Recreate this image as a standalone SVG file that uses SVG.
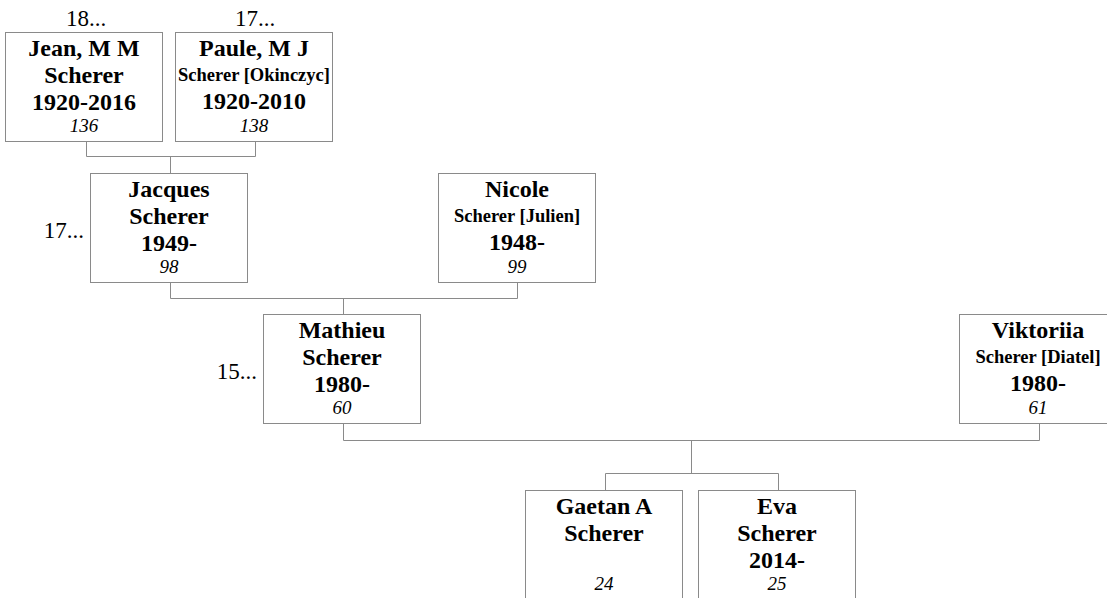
<svg xmlns="http://www.w3.org/2000/svg" width="1107" height="598" viewBox="0 0 1107 598">
<style>
  .box { fill: #ffffff; stroke: #8a8a8a; stroke-width: 1; }
  .con { fill: none; stroke: #8a8a8a; stroke-width: 1; }
  text { font-family: "Liberation Serif", "Times New Roman", serif; fill: #000; text-anchor: middle; }
  .nm { font-size: 24px; font-weight: bold; }
  .md { font-size: 18.5px; font-weight: bold; }
  .dt { font-size: 24px; font-weight: bold; }
  .id { font-size: 19px; font-style: italic; }
  .gen { font-size: 23px; }
</style>
<rect x="0" y="0" width="1107" height="598" fill="#ffffff"/>
<g id="connectors">
  <path class="con" d="M86.5 141.5 V156.5 H255.5 V141.5 M170.5 156.5 V173.5"/>
  <path class="con" d="M170.5 282.5 V298.5 H517.5 V282.5 M343.5 298.5 V314.5"/>
  <path class="con" d="M343.5 423.5 V440.5 H1039.5 V423.5 M691.5 440.5 V473.5"/>
  <path class="con" d="M605.5 490.5 V473.5 H778.5 V490.5"/>
</g>
<g id="gen-labels">
  <text class="gen" x="86" y="26">18...</text>
  <text class="gen" x="255" y="26">17...</text>
  <text class="gen" x="84" y="238" style="text-anchor:end">17...</text>
  <text class="gen" x="257" y="379" style="text-anchor:end">15...</text>
</g>
<g id="node-136">
  <rect class="box" x="5.5" y="32.5" width="157" height="109"/>
  <text class="nm" x="84" y="56">Jean, M M</text>
  <text class="nm" x="84" y="83">Scherer</text>
  <text class="dt" x="84" y="110">1920-2016</text>
  <text class="id" x="84" y="132">136</text>
</g>
<g id="node-138">
  <rect class="box" x="175.5" y="32.5" width="157" height="109"/>
  <text class="nm" x="254" y="56">Paule, M J</text>
  <text class="md" x="254" y="81">Scherer [Okinczyc]</text>
  <text class="dt" x="254" y="109">1920-2010</text>
  <text class="id" x="254" y="132">138</text>
</g>
<g id="node-98">
  <rect class="box" x="90.5" y="173.5" width="157" height="109"/>
  <text class="nm" x="169" y="197">Jacques</text>
  <text class="nm" x="169" y="224">Scherer</text>
  <text class="dt" x="169" y="251">1949-</text>
  <text class="id" x="169" y="273">98</text>
</g>
<g id="node-99">
  <rect class="box" x="438.5" y="173.5" width="157" height="109"/>
  <text class="nm" x="517" y="197">Nicole</text>
  <text class="md" x="517" y="222">Scherer [Julien]</text>
  <text class="dt" x="517" y="250">1948-</text>
  <text class="id" x="517" y="273">99</text>
</g>
<g id="node-60">
  <rect class="box" x="263.5" y="314.5" width="157" height="109"/>
  <text class="nm" x="342" y="338">Mathieu</text>
  <text class="nm" x="342" y="365">Scherer</text>
  <text class="dt" x="342" y="392">1980-</text>
  <text class="id" x="342" y="414">60</text>
</g>
<g id="node-61">
  <rect class="box" x="959.5" y="314.5" width="157" height="109"/>
  <text class="nm" x="1038" y="338">Viktoriia</text>
  <text class="md" x="1038" y="363">Scherer [Diatel]</text>
  <text class="dt" x="1038" y="391">1980-</text>
  <text class="id" x="1038" y="414">61</text>
</g>
<g id="node-24">
  <rect class="box" x="525.5" y="490.5" width="157" height="109"/>
  <text class="nm" x="604" y="514">Gaetan A</text>
  <text class="nm" x="604" y="541">Scherer</text>
  <text class="id" x="604" y="590">24</text>
</g>
<g id="node-25">
  <rect class="box" x="698.5" y="490.5" width="157" height="109"/>
  <text class="nm" x="777" y="514">Eva</text>
  <text class="nm" x="777" y="541">Scherer</text>
  <text class="dt" x="777" y="568">2014-</text>
  <text class="id" x="777" y="590">25</text>
</g>
</svg>
